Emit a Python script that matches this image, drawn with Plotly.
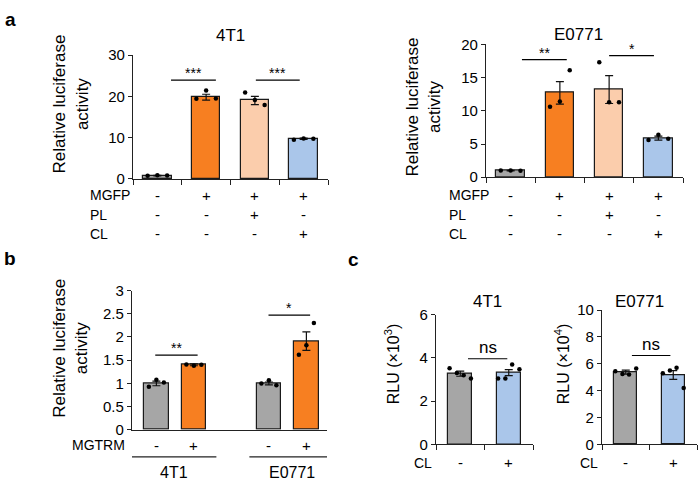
import plotly.graph_objects as go

W, H = 698, 489
FONT = "Arial, Liberation Sans, sans-serif"

# ---------------- data ----------------
# panel a, 4T1
a1_means = [0.8, 19.8, 19.0, 9.7]
a1_sem = [0.08, 0.7, 1.0, 0.15]
a1_points = [[0.75, 0.85, 0.8], [19.4, 21.4, 19.5], [20.9, 19.1, 17.9], [9.5, 9.8, 9.7]]
# panel a, E0771
a2_means = [1.0, 12.7, 13.2, 5.9]
a2_sem = [0.05, 1.7, 2.1, 0.3]
a2_points = [[1.0, 1.02, 0.98], [10.6, 11.4, 16.1], [17.3, 11.3, 11.3], [5.6, 6.4, 5.8]]
a_mgfp = ["-", "+", "+", "+"]
a_pl = ["-", "-", "+", "-"]
a_cl = ["-", "-", "-", "+"]
# panel b
b_means = [1.0, 1.4, 1.0, 1.91]
b_sem = [0.05, 0.02, 0.03, 0.2]
b_points = [[0.93, 1.08, 1.02], [1.41, 1.38, 1.4], [1.0, 1.07, 0.96], [1.62, 1.82, 2.3]]
b_mgtrm = ["-", "+", "-", "+"]
b_groups = ["4T1", "E0771"]
# panel c
c1_means = [3.27, 3.32]
c1_sem = [0.12, 0.14]
c1_points = [[3.52, 3.3, 3.2, 3.05], [3.05, 3.05, 3.7, 3.47]]
c2_means = [5.38, 5.17]
c2_sem = [0.15, 0.33]
c2_points = [[5.45, 5.25, 5.2, 5.65], [5.3, 5.5, 5.7, 4.2]]
c_cl = ["-", "+"]

GRAY, ORANGE, PEACH, BLUE = "#A6A6A6", "#F77F21", "#FBCDAC", "#AAC6EA"

def px(x):
    return x / W

def py(y):
    return 1 - y / H

fig = go.Figure()
annotations = []
shapes = []

def add_panel(k, xpos, means, sem, points, colors, xdom, ydom, xrange, yrange, ytickvals,
              xtickvals, barw, offsets):
    xa, ya = f"x{k}", f"y{k}"
    fig.add_trace(go.Bar(x=xpos, y=means, width=barw, xaxis=xa, yaxis=ya,
                         marker=dict(color=colors, line=dict(color="#1a1a1a", width=1.2)),
                         error_y=dict(type="data", array=sem, color="#111", thickness=1.2, width=4),
                         showlegend=False))
    xs, ys = [], []
    for xi, pts in zip(xpos, points):
        offs = offsets[len(pts)]
        for o, v in zip(offs, pts):
            xs.append(xi + o)
            ys.append(v)
    fig.add_trace(go.Scatter(x=xs, y=ys, mode="markers", xaxis=xa, yaxis=ya,
                             marker=dict(color="black", size=4.5), showlegend=False,
                             cliponaxis=False))
    axname = "xaxis" if k == 1 else f"xaxis{k}"
    ayname = "yaxis" if k == 1 else f"yaxis{k}"
    fig.update_layout(**{
        axname: dict(domain=[px(xdom[0]), px(xdom[1])], range=xrange, anchor=ya,
                     showline=True, linecolor="#222", linewidth=1.2, showgrid=False,
                     zeroline=False, tickmode="array", tickvals=xtickvals,
                     showticklabels=False, ticks="outside" if xtickvals else "",
                     ticklen=5, tickcolor="#222", tickwidth=1.2, fixedrange=True),
        ayname: dict(domain=[py(ydom[1]), py(ydom[0])], range=yrange, anchor=xa,
                     showline=True, linecolor="#222", linewidth=1.2, showgrid=False,
                     zeroline=False, tickmode="array", tickvals=ytickvals,
                     ticks="outside", ticklen=4, tickcolor="#222", tickwidth=1.2,
                     tickfont=dict(family=FONT, size=15, color="black"), fixedrange=True),
    })

def sig(k, x0, x1, y, text):
    fig.add_trace(go.Scatter(x=[x0, x1], y=[y, y], mode="lines", xaxis=f"x{k}", yaxis=f"y{k}",
                             line=dict(color="black", width=1.2), showlegend=False,
                             hoverinfo="skip", cliponaxis=False))
    star = "*" in text
    annotations.append(dict(x=(x0 + x1) / 2, y=y, xref=f"x{k}", yref=f"y{k}", text=text,
                            showarrow=False, yanchor="bottom", yshift=-3 if star else 0,
                            font=dict(family=FONT, size=14 if star else 17, color="black")))

def text(x, y, t, size=14, xanchor="center", xref="paper", angle=0, bold=False):
    annotations.append(dict(x=px(x) if xref == "paper" else x, y=py(y), xref=xref, yref="paper",
                            text=f"<b>{t}</b>" if bold else t, showarrow=False, xanchor=xanchor,
                            yanchor="middle", textangle=angle,
                            font=dict(family=FONT, size=size, color="black")))

OFF = {3: [-0.2, 0.0, 0.2], 4: [-0.26, -0.09, 0.09, 0.26]}
OFF2 = {3: [-0.2, 0.0, 0.2], 4: [-0.22, -0.07, 0.07, 0.22]}

cats4 = [0, 1, 2, 3]
add_panel(1, cats4, a1_means, a1_sem, a1_points, [GRAY, ORANGE, PEACH, BLUE],
          (133, 328), (47.7, 176), [-0.5, 3.5], [0, 30], [0, 10, 20, 30],
          [-0.5, 0.5, 1.5, 2.5, 3.5], 0.58, OFF)
add_panel(2, cats4, a2_means, a2_sem, a2_points, [GRAY, ORANGE, PEACH, BLUE],
          (486, 683), (36.7, 174.3), [-0.5, 3.5], [0, 20], [0, 5, 10, 15, 20],
          [-0.5, 0.5, 1.5, 2.5, 3.5], 0.58, OFF)
bx = [0, 1, 3, 4]
add_panel(3, bx, b_means, b_sem, b_points, [GRAY, ORANGE, GRAY, ORANGE],
          (132, 327), (291.7, 436), [-0.65, 4.55], [0, 3], [0, 0.5, 1, 1.5, 2, 2.5, 3],
          [], 0.66, OFF)
add_panel(4, [0, 1], c1_means, c1_sem, c1_points, [GRAY, BLUE],
          (436, 533), (316.7, 451), [-0.5, 1.5], [0, 6], [0, 2, 4, 6],
          [-0.5, 0.5, 1.5], 0.5, OFF2)
add_panel(5, [0, 1], c2_means, c2_sem, c2_points, [GRAY, BLUE],
          (602, 697), (312, 451), [-0.5, 1.5], [0, 10], [0, 2, 4, 6, 8, 10],
          [-0.5, 0.5, 1.5], 0.48, OFF2)

# significance
sig(1, 0.28, 1.2, 23.9, "***")
sig(1, 2.02, 2.92, 23.9, "***")
sig(2, 0.23, 1.14, 17.7, "**")
sig(2, 2.0, 2.91, 18.3, "*")
sig(3, -0.03, 1.1, 1.61, "**")
sig(3, 2.99, 4.1, 2.47, "*")
sig(4, 0.16, 0.97, 3.96, "ns")
sig(5, 0.13, 0.94, 6.62, "ns")

# titles
text(230, 27, "4T1", 17)
text(578, 26, "E0771", 17)
text(487, 303, "4T1", 17)
text(639, 303, "E0771", 17)

# panel letters
text(3, 11, "a", 19, xanchor="left", bold=True)
text(2, 258, "b", 19, xanchor="left", bold=True)
text(346, 260, "c", 19, xanchor="left", bold=True)

# y titles
text(71, 99, "Relative luciferase<br>activity", 17, angle=-90)
text(423, 102, "Relative luciferase<br>activity", 17, angle=-90)
text(71, 352, "Relative luciferase<br>activity", 17, angle=-90)
text(392, 368, "RLU (×10<sup>3</sup>)", 16, angle=-90)
text(562, 368, "RLU (×10<sup>4</sup>)", 16, angle=-90)

# condition rows, panel a
for k, x0 in ((1, 88), (2, 447)):
    for row, (name, vals) in enumerate((("MGFP", a_mgfp), ("PL", a_pl), ("CL", a_cl))):
        yrow = 193 + 20 * row
        text(x0, yrow, name, 14, xanchor="left")
        for xi, v in zip(cats4, vals):
            text(xi, yrow, v, 15, xref=f"x{k}")

# panel b rows
text(127, 452, "MGTRM", 14, xanchor="right")
for xi, v in zip(bx, b_mgtrm):
    text(xi, 452, v, 15, xref="x3")
for (g0, g1), name in zip(((-0.67, 1.6), (2.48, 4.75)), b_groups):
    shapes.append(dict(type="line", xref="x3", yref="paper", x0=g0, x1=g1, y0=py(464), y1=py(464),
                       line=dict(color="#222", width=1.2)))
    text((g0 + g1) / 2, 480, name, 16, xref="x3")

# panel c rows
for k, x0 in ((4, 412), (5, 578)):
    text(x0, 470, "CL", 14, xanchor="left")
    for xi, v in zip([0, 1], c_cl):
        text(xi, 470, v, 15, xref=f"x{k}")

fig.update_layout(width=W, height=H, margin=dict(l=0, r=0, t=0, b=0),
                  paper_bgcolor="white", plot_bgcolor="white", bargap=0,
                  annotations=annotations, shapes=shapes, showlegend=False,
                  font=dict(family=FONT, color="black"))
fig.write_html("out.html", config={"displayModeBar": False},
               post_script="document.body.style.margin='0';document.body.style.overflow='hidden';")
